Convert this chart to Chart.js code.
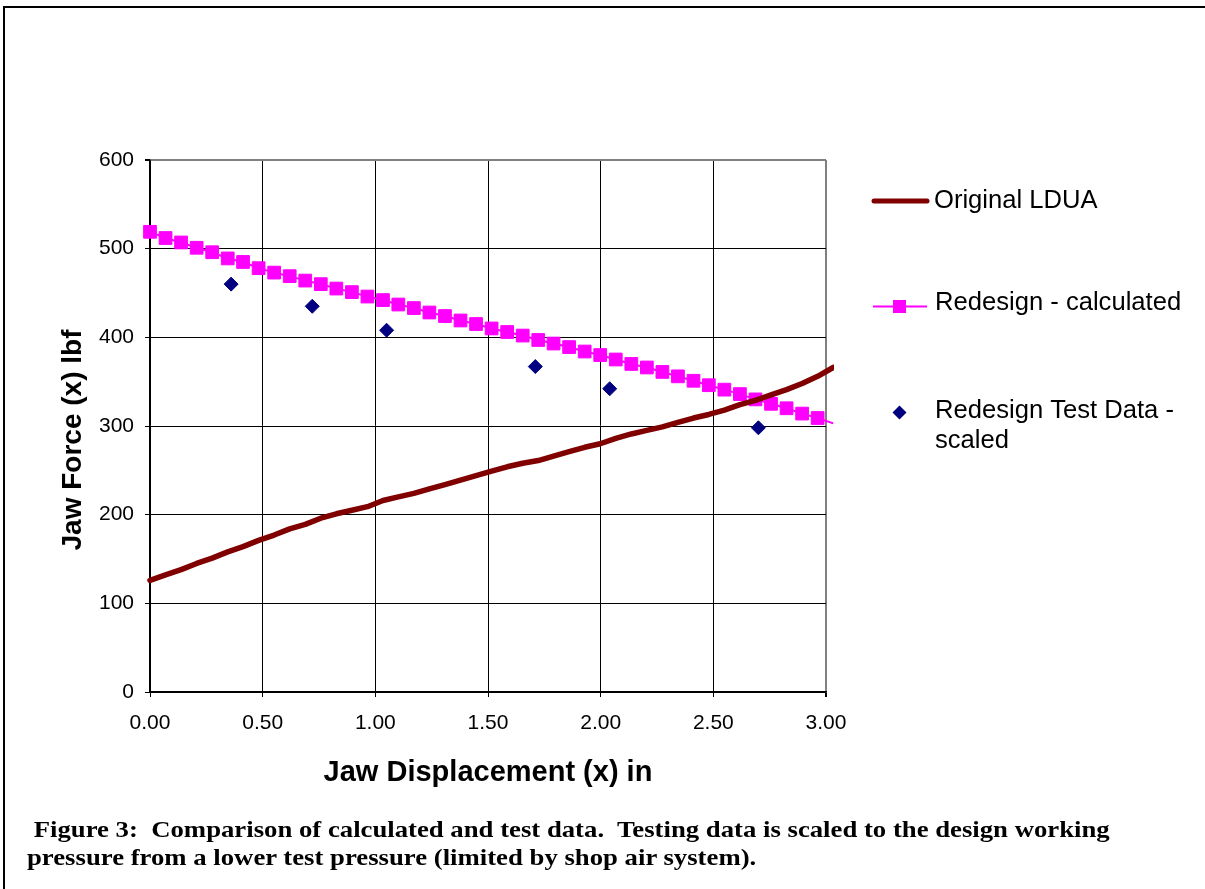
<!DOCTYPE html>
<html><head><meta charset="utf-8">
<script src="https://cdn.jsdelivr.net/npm/chart.js@4.4.1/dist/chart.umd.min.js"></script>
<style>
html,body{margin:0;padding:0;background:#fff;}
#wrap{position:relative;width:1205px;height:889px;overflow:hidden;background:#fff;}
#frame{position:absolute;left:3px;top:6px;right:-10px;bottom:-10px;border-top:2px solid #000;border-left:2px solid #000;}
canvas{position:absolute;left:0;top:0;}
#cap{position:absolute;left:27px;top:815.8px;font:bold 23px "Liberation Serif","Times New Roman",serif;line-height:28.5px;white-space:pre;color:#000;transform:scaleX(1.162);transform-origin:0 0;}
</style></head><body>
<div id="wrap"><div id="frame"></div><canvas id="c" width="1205" height="889"></canvas>
<div id="cap"> Figure 3:  Comparison of calculated and test data.  Testing data is scaled to the design working
pressure from a lower test pressure (limited by shop air system).</div></div>
<script>
// ---- data ----
const xCalc = [0.000, 0.069, 0.138, 0.207, 0.276, 0.345, 0.413, 0.482, 0.551, 0.620,
               0.689, 0.758, 0.827, 0.896, 0.965, 1.034, 1.102, 1.171, 1.240, 1.309,
               1.378, 1.447, 1.516, 1.585, 1.654, 1.723, 1.791, 1.860, 1.929, 1.998,
               2.067, 2.136, 2.205, 2.274, 2.343, 2.412, 2.480, 2.549, 2.618, 2.687,
               2.756, 2.825, 2.894, 2.963, 3.032];
const originalLDUA = [126, 132, 138, 145, 151, 158, 164, 171, 177, 184,
                      189, 196, 201, 205, 209, 216, 220, 224, 229, 234,
                      239, 244, 249, 254, 258, 261, 266, 271, 276, 280,
                      286, 291, 295, 299, 304, 309, 313, 318, 324, 329,
                      335, 341, 348, 356, 366];
const redesignCalc = [519, 512, 507, 501, 496, 489, 485, 478, 473, 469,
                      464, 460, 455, 451, 446, 442, 437, 433, 428, 424,
                      419, 415, 410, 406, 402, 397, 393, 389, 384, 380,
                      375, 370, 366, 361, 356, 351, 346, 341, 336, 330,
                      325, 320, 314, 309, 303];
const testX = [0.36, 0.72, 1.05, 1.71, 2.04, 2.70];
const testY = [460, 435, 408, 367, 342, 298];
const xTickLabels = ['0.00', '0.50', '1.00', '1.50', '2.00', '2.50', '3.00'];
const yTickLabels = ['0', '100', '200', '300', '400', '500', '600'];
const seriesNames = ['Original LDUA', 'Redesign - calculated', 'Redesign Test Data -\nscaled'];
const xTitle = 'Jaw Displacement (x) in';
const yTitle = 'Jaw Force (x) lbf';

const pts = (xs, ys) => xs.map((x, i) => ({x: x, y: ys[i]}));
const SANS = '"Liberation Sans", Arial, sans-serif';
Chart.defaults.font.family = SANS;
Chart.defaults.color = '#000';

const decor = {
  id: 'decor',
  afterDraw(chart) {
    const c = chart.ctx, a = chart.chartArea;
    c.save();
    c.fillStyle = '#000';
    c.textAlign = 'center';
    c.textBaseline = 'alphabetic';
    c.font = 'bold 29px ' + SANS;
    c.fillText(xTitle, (a.left + a.right) / 2, 781);
    c.font = 'bold 28px ' + SANS;
    c.save();
    c.translate(81, 440);
    c.rotate(-Math.PI / 2);
    c.fillText(yTitle, 0, 0);
    c.restore();

    // legend
    const ds = chart.data.datasets;
    c.font = '25.6px ' + SANS;
    c.textAlign = 'left';
    // entry 1
    c.strokeStyle = ds[0].borderColor; c.lineWidth = 5; c.lineCap = 'round';
    c.beginPath(); c.moveTo(874, 201); c.lineTo(927, 201); c.stroke();
    c.fillText(ds[0].label, 934, 208);
    // entry 2
    c.strokeStyle = ds[1].borderColor; c.lineWidth = 2; c.lineCap = 'butt';
    c.beginPath(); c.moveTo(873, 306.5); c.lineTo(927, 306.5); c.stroke();
    c.fillStyle = ds[1].pointBackgroundColor;
    c.fillRect(893, 300, 13, 13);
    c.fillStyle = '#000';
    c.fillText(ds[1].label, 935, 310);
    // entry 3
    c.fillStyle = ds[2].backgroundColor;
    c.beginPath(); c.moveTo(899.5, 405.5); c.lineTo(906.5, 412.5); c.lineTo(899.5, 419.5); c.lineTo(892.5, 412.5); c.closePath(); c.fill();
    c.fillStyle = '#000';
    const lines = ds[2].label.split('\n');
    c.fillText(lines[0], 935, 418);
    c.fillText(lines[1], 935, 448);
    c.restore();
  }
};

const CLIP = {left: 12, top: 12, right: 8, bottom: 12};

new Chart(document.getElementById('c'), {
  type: 'scatter',
  data: {
    datasets: [
      {
        label: seriesNames[0],
        data: pts(xCalc, originalLDUA),
        showLine: true,
        borderColor: '#800000',
        backgroundColor: '#800000',
        borderWidth: 5.5,
        borderCapStyle: 'round',
        borderJoinStyle: 'round',
        pointRadius: 0,
        order: 1,
        clip: CLIP
      },
      {
        label: seriesNames[1],
        data: pts(xCalc, redesignCalc),
        showLine: true,
        borderColor: '#FF00FF',
        backgroundColor: '#FF00FF',
        borderWidth: 2,
        pointStyle: 'rect',
        pointRadius: xCalc.map(x => x <= 3 ? 9 : 0),
        pointBackgroundColor: '#FF00FF',
        pointBorderColor: '#FF00FF',
        pointBorderWidth: 1,
        order: 2,
        clip: CLIP
      },
      {
        label: seriesNames[2],
        data: pts(testX, testY),
        showLine: false,
        pointStyle: 'rectRot',
        pointRadius: 7,
        backgroundColor: '#000080',
        borderColor: '#000080',
        borderWidth: 1,
        order: 0,
        clip: CLIP
      }
    ]
  },
  options: {
    responsive: false,
    animation: false,
    devicePixelRatio: 1,
    events: [],
    layout: {padding: {left: 0, right: 379, top: 160, bottom: 137}},
    plugins: {legend: {display: false}, tooltip: {enabled: false}},
    elements: {line: {tension: 0}},
    scales: {
      x: {
        type: 'linear', min: 0, max: 3,
        afterFit: s => { s.height = 60; },
        ticks: {
          stepSize: 0.5, autoSkip: false, maxRotation: 0,
          font: {size: 21}, color: '#000', padding: 14,
          callback: (v) => xTickLabels[Math.round(v / 0.5)]
        },
        grid: {
          color: c => (c.tick && c.tick.value === 3) ? '#808080' : '#000',
          lineWidth: c => (c.tick && c.tick.value === 3) ? 2 : 1,
          tickLength: 5, tickColor: '#000'
        },
        border: {color: '#000', width: 1.5}
      },
      y: {
        type: 'linear', min: 0, max: 600,
        afterFit: s => { s.width = 150; },
        ticks: {
          stepSize: 100, font: {size: 21}, color: '#000', padding: 11,
          callback: (v) => yTickLabels[Math.round(v / 100)]
        },
        grid: {
          color: c => (c.tick && c.tick.value === 600) ? '#808080' : '#000',
          lineWidth: c => (c.tick && c.tick.value === 600) ? 2 : 1,
          tickLength: 5, tickColor: '#000'
        },
        border: {color: '#000', width: 1.5}
      }
    }
  },
  plugins: [decor]
});
</script>
</body></html>
